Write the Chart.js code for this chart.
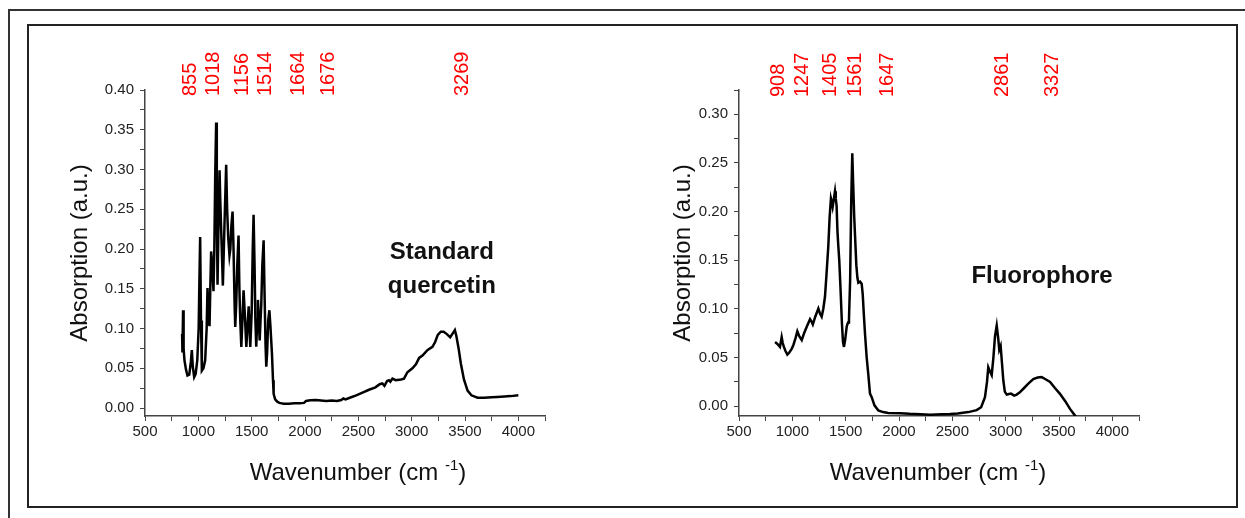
<!DOCTYPE html>
<html>
<head>
<meta charset="utf-8">
<script src="https://cdn.jsdelivr.net/npm/chart.js"></script>
<style>
  html, body { margin: 0; padding: 0; background: #fff; overflow: hidden; }
  body { width: 1245px; height: 518px; position: relative; }
  .outer { position: absolute; left: 8px; top: 9px; width: 1400px; height: 700px; border: 2px solid #333; box-sizing: border-box; }
  .inner { position: absolute; left: 27px; top: 24px; width: 1211px; height: 484px; border: 2px solid #222; box-sizing: border-box; }
  canvas { position: absolute; }
</style>
</head>
<body>
<div class="outer"></div>
<div class="inner"></div>
<canvas id="quercetin" width="505" height="450" style="left:55px;top:40px;"></canvas>
<canvas id="fluoro" width="505" height="450" style="left:649px;top:40px;"></canvas>
<script>
// Standard quercetin spectrum
const waveQ = [848, 851, 857, 862, 870, 885, 898, 915, 930, 939, 948, 961, 975, 990, 1003, 1010, 1017, 1025, 1033, 1048,
  1064, 1078, 1086, 1096, 1105, 1112, 1120, 1130, 1142, 1150, 1158, 1167, 1173, 1180, 1190, 1199, 1206, 1214, 1222, 1230,
  1245, 1261, 1270, 1280, 1292, 1300, 1310, 1321, 1330, 1340, 1346, 1355, 1365, 1377, 1385, 1393, 1403, 1413, 1424, 1435,
  1450, 1460, 1472, 1480, 1487, 1500, 1510, 1518, 1527, 1535, 1543, 1552, 1559, 1567, 1575, 1583, 1590, 1600, 1612, 1620,
  1630, 1637, 1645, 1655, 1666, 1675, 1690, 1700, 1706, 1720, 1740, 1760, 1800, 1850, 1900, 1950, 1990, 2010, 2050, 2100,
  2150, 2200, 2250, 2300, 2340, 2360, 2380, 2420, 2480, 2550, 2600, 2660, 2700, 2725, 2745, 2770, 2787, 2800, 2820, 2850,
  2900, 2928, 2960, 3007, 3040, 3070, 3101, 3150, 3195, 3220, 3245, 3273, 3300, 3330, 3361, 3385, 3405, 3420, 3440, 3461,
  3490, 3524, 3560, 3618, 3680, 3750, 3800, 3869, 3930, 4000];
const absQ = [0.093, 0.070, 0.123, 0.075, 0.060, 0.048, 0.041, 0.042, 0.058, 0.073, 0.052, 0.039, 0.043, 0.060, 0.100, 0.160, 0.215, 0.110, 0.047, 0.050,
  0.060, 0.100, 0.151, 0.110, 0.103, 0.150, 0.197, 0.180, 0.147, 0.200, 0.290, 0.359, 0.250, 0.155, 0.240, 0.299, 0.260, 0.225, 0.190, 0.154,
  0.230, 0.306, 0.250, 0.215, 0.192, 0.200, 0.230, 0.247, 0.200, 0.130, 0.102, 0.130, 0.180, 0.217, 0.150, 0.110, 0.077, 0.110, 0.148, 0.120,
  0.077, 0.100, 0.128, 0.100, 0.077, 0.120, 0.200, 0.243, 0.180, 0.110, 0.077, 0.110, 0.136, 0.110, 0.085, 0.110, 0.130, 0.180, 0.211, 0.150,
  0.080, 0.052, 0.070, 0.110, 0.123, 0.105, 0.069, 0.035, 0.018, 0.011, 0.008, 0.0065, 0.0055, 0.0055, 0.006, 0.006, 0.0065, 0.009, 0.0098, 0.010,
  0.0095, 0.009, 0.0095, 0.009, 0.010, 0.012, 0.011, 0.013, 0.016, 0.020, 0.023, 0.026, 0.030, 0.031, 0.028, 0.034, 0.035, 0.033, 0.037, 0.035,
  0.036, 0.037, 0.045, 0.050, 0.055, 0.063, 0.066, 0.073, 0.077, 0.083, 0.092, 0.096, 0.096, 0.093, 0.089, 0.094, 0.098, 0.090, 0.075, 0.056,
  0.036, 0.022, 0.016, 0.013, 0.013, 0.0135, 0.014, 0.0145, 0.015, 0.016];

// Fluorophore spectrum
const waveF = [838, 860, 884, 900, 910, 921, 935, 953, 970, 994, 1010, 1030, 1047, 1065, 1088, 1110, 1140, 1166, 1180, 1192,
  1215, 1244, 1260, 1275, 1290, 1306, 1320, 1337, 1350, 1362, 1370, 1378, 1388, 1400, 1407, 1415, 1423, 1431, 1440, 1452,
  1465, 1475, 1484, 1495, 1510, 1522, 1531, 1542, 1552, 1562, 1570, 1580, 1588, 1600, 1610, 1619, 1635, 1650, 1660, 1670,
  1681, 1697, 1712, 1728, 1744, 1770, 1806, 1850, 1900, 2009, 2100, 2200, 2291, 2400, 2478, 2550, 2650, 2728, 2770, 2806,
  2825, 2837, 2852, 2869, 2885, 2900, 2916, 2930, 2940, 2953, 2965, 2978, 2992, 3010, 3050, 3080, 3103, 3130, 3166, 3210,
  3259, 3300, 3337, 3370, 3416, 3460, 3509, 3560, 3603, 3650, 3680, 3720];
const absF = [0.066, 0.064, 0.061, 0.071, 0.065, 0.061, 0.057, 0.053, 0.055, 0.059, 0.063, 0.070, 0.077, 0.072, 0.068, 0.075, 0.083, 0.0895, 0.087, 0.084,
  0.092, 0.1005, 0.095, 0.092, 0.100, 0.1125, 0.135, 0.164, 0.195, 0.2136, 0.210, 0.205, 0.212, 0.221, 0.214, 0.206, 0.180, 0.165, 0.150, 0.120,
  0.085, 0.066, 0.061, 0.068, 0.082, 0.086, 0.090, 0.130, 0.210, 0.260, 0.230, 0.195, 0.175, 0.145, 0.132, 0.127, 0.128, 0.126, 0.115, 0.095,
  0.075, 0.050, 0.033, 0.013, 0.0093, 0.001, -0.0044, -0.006, -0.0068, -0.0072, -0.0078, -0.0082, -0.0086, -0.0082, -0.008, -0.0075, -0.006, -0.004, -0.001, 0.0093,
  0.025, 0.040, 0.036, 0.032, 0.050, 0.072, 0.083, 0.070, 0.058, 0.062, 0.045, 0.0265, 0.015, 0.012, 0.013, 0.011, 0.012, 0.014, 0.018, 0.023,
  0.028, 0.0295, 0.030, 0.028, 0.025, 0.019, 0.0128, 0.005, -0.0027, -0.0096, -0.014, -0.020];

// peak labels (red, rotated)
const peaksQ = ['855', '1018', '1156', '1514', '1664', '1676', '3269'];
const peaksF = ['908', '1247', '1405', '1561', '1647', '2861', '3327'];

// tick labels
const xTickLabels = [500, 1000, 1500, 2000, 2500, 3000, 3500, 4000];
const yTickLabelsQ = [0.00, 0.05, 0.10, 0.15, 0.20, 0.25, 0.30, 0.35, 0.40];
const yTickLabelsF = [0.00, 0.05, 0.10, 0.15, 0.20, 0.25, 0.30];

const FONT = '"Liberation Sans", Arial, sans-serif';

const annotate = {
  id: 'annotate',
  afterDraw(chart, args, opts) {
    const { ctx, chartArea, scales: { x, y } } = chart;
    ctx.save();
    // peak labels
    ctx.fillStyle = '#ff0000';
    ctx.font = '20px ' + FONT;
    ctx.textAlign = 'left';
    ctx.textBaseline = 'middle';
    opts.peaks.forEach((txt, i) => {
      ctx.save();
      ctx.translate(x.getPixelForValue(opts.peakPos[i]), chartArea.top + opts.peakDrop);
      ctx.rotate(-Math.PI / 2);
      ctx.fillText(txt, 0, 0);
      ctx.restore();
    });
    // sample name
    ctx.fillStyle = '#111';
    ctx.font = 'bold 24px ' + FONT;
    ctx.textAlign = 'center';
    ctx.textBaseline = 'alphabetic';
    const nx = x.getPixelForValue(opts.namePos[0]);
    const ny = y.getPixelForValue(opts.namePos[1]);
    opts.name.forEach((line, i) => ctx.fillText(line, nx, ny + i * 34));
    // x axis title with superscript
    const main = 'Wavenumber (cm ', sup = '-1', end = ')';
    ctx.fillStyle = '#111';
    ctx.textAlign = 'left';
    ctx.font = '24px ' + FONT;
    const w1 = ctx.measureText(main).width, w3 = ctx.measureText(end).width;
    ctx.font = '15px ' + FONT;
    const w2 = ctx.measureText(sup).width;
    const cx = (chartArea.left + chartArea.right) / 2 + opts.titleShift;
    const base = chartArea.bottom + 64;
    let sx = cx - (w1 + w2 + w3) / 2;
    ctx.font = '24px ' + FONT;
    ctx.fillText(main, sx, base);
    ctx.font = '15px ' + FONT;
    ctx.fillText(sup, sx + w1, base - 10);
    ctx.font = '24px ' + FONT;
    ctx.fillText(end, sx + w1 + w2, base);
    ctx.restore();
  }
};

function points(xs, ys) {
  return xs.map((v, i) => ({ x: v, y: ys[i] }));
}

function makeChart(id, xs, ys, yMax, yLabels, yTitlePad, annot) {
  const has = (arr, v) => arr.some(a => Math.abs(a - v) < 1e-6);
  const axisColor = '#444';
  return new Chart(document.getElementById(id), {
    type: 'scatter',
    data: {
      datasets: [{
        data: points(xs, ys),
        showLine: true,
        borderColor: '#000',
        borderWidth: 2.5,
        pointRadius: 0,
        tension: 0
      }]
    },
    options: {
      responsive: false,
      animation: false,
      layout: { padding: { left: 0, right: 15, top: 50, bottom: 0 } },
      plugins: { legend: { display: false }, tooltip: { enabled: false }, annotate: annot },
      scales: {
        x: {
          type: 'linear',
          min: 500, max: 4250,
          afterFit: s => { s.height = 74; },
          border: { display: true, color: axisColor, width: 1.5 },
          grid: { drawOnChartArea: false, drawTicks: true, tickLength: 5, color: axisColor },
          ticks: {
            stepSize: 250, autoSkip: false, maxRotation: 0, padding: 2,
            color: '#222', font: { family: FONT, size: 15 },
            callback: v => has(xTickLabels, v) ? String(v) : ''
          },
          title: { display: false }
        },
        y: {
          min: -0.01, max: yMax,
          afterFit: s => { s.width = 90; },
          border: { display: true, color: axisColor, width: 1.5 },
          grid: { drawOnChartArea: false, drawTicks: true, tickLength: 5, color: axisColor },
          ticks: {
            stepSize: 0.025, includeBounds: false, autoSkip: false, padding: 6,
            color: '#222', font: { family: FONT, size: 15 },
            callback: v => has(yLabels, v) ? v.toFixed(2) : ''
          },
          title: {
            display: true, text: 'Absorption (a.u.)', color: '#111',
            font: { family: FONT, size: 24 }, padding: { top: yTitlePad, bottom: 0 }
          }
        }
      }
    },
    plugins: [annotate]
  });
}

makeChart('quercetin', waveQ, absQ, 0.40, yTickLabelsQ, 11, {
  peaks: peaksQ,
  peakPos: [923, 1139, 1412, 1628, 1938, 2220, 3480],
  peakDrop: 6,
  name: ['Standard', 'quercetin'],
  namePos: [3283, 0.187],
  titleShift: 13
});

makeChart('fluoro', waveF, absF, 0.325, yTickLabelsF, 20, {
  peaks: peaksF,
  peakPos: [866, 1091, 1353, 1588, 1888, 2966, 3435],
  peakDrop: 7,
  name: ['Fluorophore'],
  namePos: [3341, 0.1266],
  titleShift: -1
});
</script>
</body>
</html>
